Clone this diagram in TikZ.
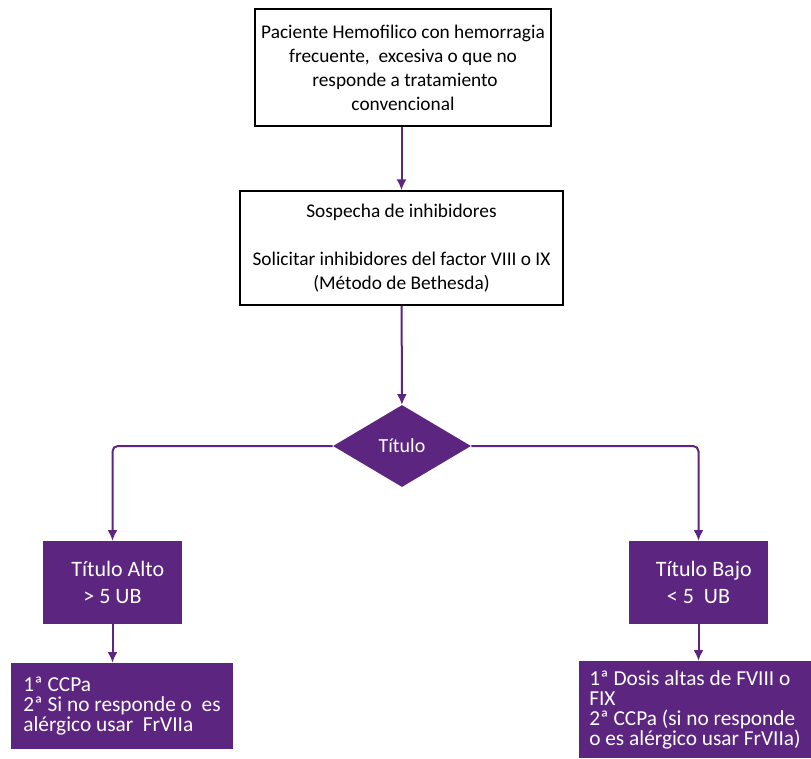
\documentclass[tikz,border=0pt]{standalone}
\usepackage{fontspec}
\setmainfont{Carlito}
\usetikzlibrary{shapes.geometric}
\usetikzlibrary{positioning}
\usetikzlibrary{arrows.meta}
\definecolor{morado}{RGB}{92,37,128}

\begin{document}
\begin{tikzpicture}[x=0.75pt,y=-0.75pt,
    caja/.style={draw,line width=1.3pt,align=center,inner sep=0pt,
        font=\fontsize{14.5}{18}\selectfont},
    morado box/.style={fill=morado,text=white,inner sep=0pt},
    titulo box/.style={morado box,align=center,minimum width=104.25pt,
        minimum height=62.25pt,font=\fontsize{16.5}{20}\selectfont},
    trat box/.style={morado box,align=left,font=\fontsize{16}{15}\selectfont},
    rombo/.style={diamond,fill=morado,text=white,inner sep=0pt,aspect=1.68,
        minimum width=103.5pt,minimum height=61.5pt,font=\fontsize{15}{18}\selectfont},
    flecha/.style={draw=morado,line width=1.5pt,-{Latex[length=8pt,width=7.5pt]}}]
    \useasboundingbox (0,0) rectangle (811,758);
    \node [caja,minimum width=222pt,minimum height=87.75pt] (paciente) at (403,67.5)
        {Paciente Hemofilico con hemorragia\\
         frecuente,\ \ excesiva o que no\hspace*{10pt}\\
         \hspace*{3pt}responde a tratamiento\\
         convencional};
    \node [caja,minimum width=242.25pt,minimum height=85.5pt] (sospecha) at (401.5,248)
        {Sospecha de inhibidores\\[18pt]
         Solicitar inhibidores del factor VIII o IX\\
         (Método de Bethesda)};
    \node [rombo] (titulo) at (402,446) {Título};
    \node [titulo box] (alto) at (112.5,582.5) {\hspace*{8pt}Título Alto\\ > 5 UB};
    \node [titulo box] (bajo) at (698.5,582.5) {\hspace*{8pt}Título Bajo\\ < 5\ \ UB};
    \node [trat box,minimum width=166.5pt,minimum height=64.5pt] (ccpa) at (122,706)
        {1ª CCPa\\ 2ª Si no responde o\ \ es\\ alérgico usar\ \ FrVIIa};
    \node [trat box,minimum width=174pt,minimum height=72.75pt] (dosis) at (695,709.5)
        {1ª Dosis altas de FVIII o\\ FIX\\ 2ª CCPa (si no responde\\ o es alérgico usar FrVIIa)};
    \draw [flecha] (paciente.south -| sospecha.north) -- (sospecha.north);
    \draw [flecha] (sospecha) -- (titulo);
    \draw [flecha,rounded corners=4pt] (titulo.west) -| (alto.north);
    \draw [flecha,rounded corners=4pt] (titulo.east) -| (bajo.north);
    \draw [flecha] (alto.south) -- (alto.south |- ccpa.north);
    \draw [flecha] (bajo.south) -- (bajo.south |- dosis.north);
\end{tikzpicture}
\end{document}
